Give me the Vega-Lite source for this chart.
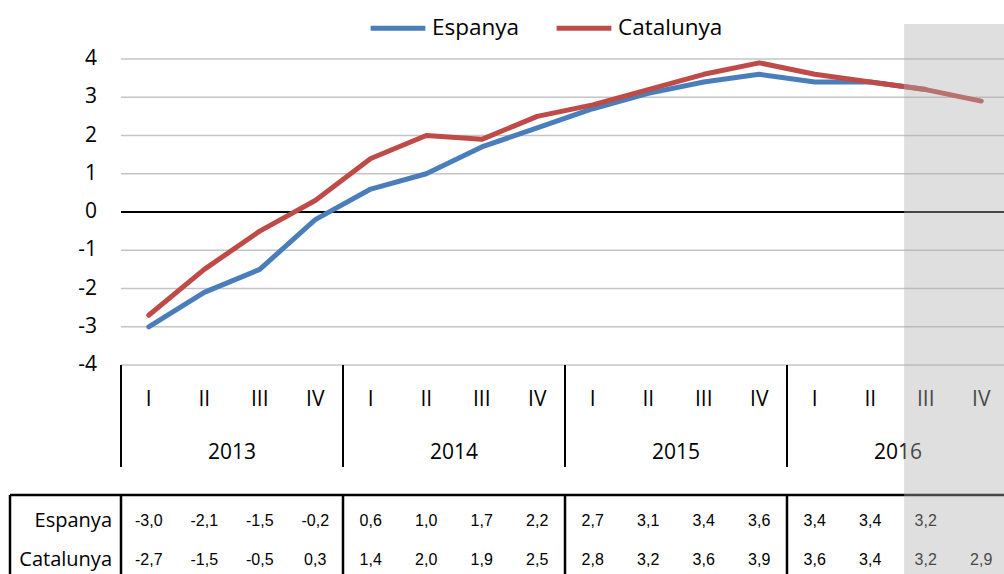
{
  "$schema": "https://vega.github.io/schema/vega-lite/v6.json",
  "width": 883,
  "height": 574,
  "autosize": {"type": "none"},
  "padding": {"left": 121, "top": 0, "right": 0, "bottom": 0},
  "background": "white",
  "config": {
    "view": {"stroke": null},
    "font": "Open Sans",
    "locale": {"number": {"decimal": ",", "thousands": ".", "grouping": [3], "currency": ["", " €"], "minus": "-"}}
  },
  "datasets": {
    "gdp": [
      {"i": 0, "year": "2013", "q": "I", "serie": "Espanya", "v": -3.0},
      {"i": 1, "year": "2013", "q": "II", "serie": "Espanya", "v": -2.1},
      {"i": 2, "year": "2013", "q": "III", "serie": "Espanya", "v": -1.5},
      {"i": 3, "year": "2013", "q": "IV", "serie": "Espanya", "v": -0.2},
      {"i": 4, "year": "2014", "q": "I", "serie": "Espanya", "v": 0.6},
      {"i": 5, "year": "2014", "q": "II", "serie": "Espanya", "v": 1.0},
      {"i": 6, "year": "2014", "q": "III", "serie": "Espanya", "v": 1.7},
      {"i": 7, "year": "2014", "q": "IV", "serie": "Espanya", "v": 2.2},
      {"i": 8, "year": "2015", "q": "I", "serie": "Espanya", "v": 2.7},
      {"i": 9, "year": "2015", "q": "II", "serie": "Espanya", "v": 3.1},
      {"i": 10, "year": "2015", "q": "III", "serie": "Espanya", "v": 3.4},
      {"i": 11, "year": "2015", "q": "IV", "serie": "Espanya", "v": 3.6},
      {"i": 12, "year": "2016", "q": "I", "serie": "Espanya", "v": 3.4},
      {"i": 13, "year": "2016", "q": "II", "serie": "Espanya", "v": 3.4},
      {"i": 14, "year": "2016", "q": "III", "serie": "Espanya", "v": 3.2},
      {"i": 0, "year": "2013", "q": "I", "serie": "Catalunya", "v": -2.7},
      {"i": 1, "year": "2013", "q": "II", "serie": "Catalunya", "v": -1.5},
      {"i": 2, "year": "2013", "q": "III", "serie": "Catalunya", "v": -0.5},
      {"i": 3, "year": "2013", "q": "IV", "serie": "Catalunya", "v": 0.3},
      {"i": 4, "year": "2014", "q": "I", "serie": "Catalunya", "v": 1.4},
      {"i": 5, "year": "2014", "q": "II", "serie": "Catalunya", "v": 2.0},
      {"i": 6, "year": "2014", "q": "III", "serie": "Catalunya", "v": 1.9},
      {"i": 7, "year": "2014", "q": "IV", "serie": "Catalunya", "v": 2.5},
      {"i": 8, "year": "2015", "q": "I", "serie": "Catalunya", "v": 2.8},
      {"i": 9, "year": "2015", "q": "II", "serie": "Catalunya", "v": 3.2},
      {"i": 10, "year": "2015", "q": "III", "serie": "Catalunya", "v": 3.6},
      {"i": 11, "year": "2015", "q": "IV", "serie": "Catalunya", "v": 3.9},
      {"i": 12, "year": "2016", "q": "I", "serie": "Catalunya", "v": 3.6},
      {"i": 13, "year": "2016", "q": "II", "serie": "Catalunya", "v": 3.4},
      {"i": 14, "year": "2016", "q": "III", "serie": "Catalunya", "v": 3.2},
      {"i": 15, "year": "2016", "q": "IV", "serie": "Catalunya", "v": 2.9}
    ],
    "yticks": [{"t": -4}, {"t": -3}, {"t": -2}, {"t": -1}, {"t": 0}, {"t": 1}, {"t": 2}, {"t": 3}, {"t": 4}],
    "years": [
      {"x": 1.5, "year": "2013"},
      {"x": 5.5, "year": "2014"},
      {"x": 9.5, "year": "2015"},
      {"x": 13.5, "year": "2016"}
    ],
    "seps": [{"x": -0.5}, {"x": 3.5}, {"x": 7.5}, {"x": 11.5}],
    "tseps": [{"x": -2.5}, {"x": -0.5}, {"x": 3.5}, {"x": 7.5}, {"x": 11.5}]
  },
  "layer": [
    {
      "data": {"name": "yticks"},
      "mark": {"type": "rule"},
      "encoding": {
        "x": {"datum": -0.5, "scale": {"domain": [-0.5, 15.41], "nice": false, "zero": false}, "axis": null},
        "x2": {"datum": 15.41},
        "y": {"field": "t", "type": "quantitative", "scale": {"domain": [-9.464, 5.5425], "nice": false, "zero": false}, "axis": null},
        "color": {"condition": {"test": "datum.t === 0", "value": "black"}, "value": "#c4c4c4"},
        "strokeWidth": {"condition": {"test": "datum.t === 0", "value": 2}, "value": 1.5}
      }
    },
    {
      "data": {"name": "yticks"},
      "mark": {"type": "text", "fontSize": 21, "font": "Open Sans", "color": "black", "baseline": "middle", "align": "right"},
      "encoding": {
        "x": {"datum": -0.932, "axis": null},
        "y": {"field": "t", "type": "quantitative", "axis": null},
        "text": {"field": "t", "type": "quantitative", "format": "d"}
      }
    },
    {
      "data": {"name": "gdp"},
      "mark": {"type": "line", "strokeWidth": 5, "strokeCap": "round", "strokeJoin": "round"},
      "encoding": {
        "x": {"field": "i", "type": "quantitative", "axis": null},
        "y": {"field": "v", "type": "quantitative", "axis": null},
        "color": {
          "field": "serie", "type": "nominal",
          "scale": {"domain": ["Espanya", "Catalunya"], "range": ["#4A7EBB", "#BE4B48"]},
          "legend": {
            "orient": "none", "legendX": 247, "legendY": -2, "direction": "horizontal", "title": null,
            "symbolType": "stroke", "symbolSize": 3000, "symbolStrokeWidth": 5,
            "labelFont": "Open Sans", "labelFontSize": 22.5, "labelColor": "black", "labelOffset": 4,
            "columnPadding": 26
          }
        }
      }
    },
    {
      "data": {"name": "gdp"},
      "transform": [{"filter": "datum.serie === 'Catalunya'"}],
      "mark": {"type": "text", "fontSize": 21, "font": "Open Sans", "color": "black", "baseline": "middle"},
      "encoding": {
        "x": {"field": "i", "type": "quantitative", "axis": null},
        "y": {"datum": -4.928, "axis": null},
        "text": {"field": "q"}
      }
    },
    {
      "data": {"name": "years"},
      "mark": {"type": "text", "fontSize": 21, "font": "Open Sans", "color": "black", "baseline": "middle"},
      "encoding": {
        "x": {"field": "x", "type": "quantitative", "axis": null},
        "y": {"datum": -6.301, "axis": null},
        "text": {"field": "year"}
      }
    },
    {
      "data": {"name": "seps"},
      "mark": {"type": "rule", "color": "black", "strokeWidth": 2},
      "encoding": {
        "x": {"field": "x", "type": "quantitative", "axis": null},
        "y": {"datum": -4.0, "axis": null},
        "y2": {"datum": -6.667}
      }
    },
    {
      "data": {"values": [{}]},
      "mark": {"type": "rule", "color": "black", "strokeWidth": 2.5},
      "encoding": {
        "x": {"datum": -2.5, "axis": null},
        "x2": {"datum": 15.41},
        "y": {"datum": -7.399, "axis": null}
      }
    },
    {
      "data": {"name": "tseps"},
      "mark": {"type": "rule", "color": "black", "strokeWidth": 2.5},
      "encoding": {
        "x": {"field": "x", "type": "quantitative", "axis": null},
        "y": {"datum": -7.399, "axis": null},
        "y2": {"datum": -9.464}
      }
    },
    {
      "data": {"name": "gdp"},
      "transform": [{"filter": "datum.serie === 'Espanya'"}],
      "mark": {"type": "text", "fontSize": 16, "font": "Liberation Sans", "color": "black", "baseline": "middle"},
      "encoding": {
        "x": {"field": "i", "type": "quantitative", "axis": null},
        "y": {"datum": -8.078, "axis": null},
        "text": {"field": "v", "type": "quantitative", "format": ".1f"}
      }
    },
    {
      "data": {"name": "gdp"},
      "transform": [{"filter": "datum.serie === 'Catalunya'"}],
      "mark": {"type": "text", "fontSize": 16, "font": "Liberation Sans", "color": "black", "baseline": "middle"},
      "encoding": {
        "x": {"field": "i", "type": "quantitative", "axis": null},
        "y": {"datum": -9.098, "axis": null},
        "text": {"field": "v", "type": "quantitative", "format": ".1f"}
      }
    },
    {
      "data": {"values": [{}]},
      "mark": {"type": "text", "fontSize": 20, "font": "Open Sans", "color": "black", "baseline": "middle", "align": "right"},
      "encoding": {
        "x": {"datum": -0.662, "axis": null},
        "y": {"datum": -8.078, "axis": null},
        "text": {"value": "Espanya"}
      }
    },
    {
      "data": {"values": [{}]},
      "mark": {"type": "text", "fontSize": 20, "font": "Open Sans", "color": "black", "baseline": "middle", "align": "right"},
      "encoding": {
        "x": {"datum": -0.662, "axis": null},
        "y": {"datum": -9.098, "axis": null},
        "text": {"value": "Catalunya"}
      }
    },
    {
      "data": {"values": [{}]},
      "mark": {"type": "rect", "color": "#b0b0b0", "opacity": 0.4},
      "encoding": {
        "x": {"datum": 13.61, "axis": null},
        "x2": {"datum": 15.41},
        "y": {"datum": 4.915, "axis": null},
        "y2": {"datum": -9.464}
      }
    }
  ]
}
